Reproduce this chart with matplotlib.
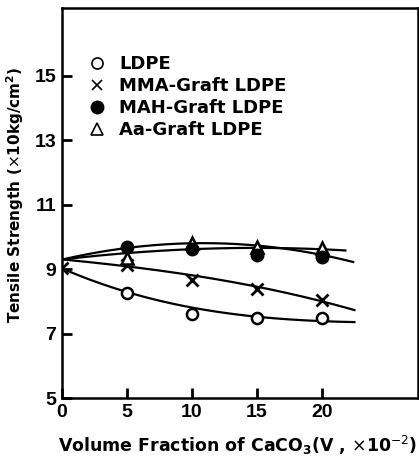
import numpy as np
import matplotlib
matplotlib.use("Agg")
import matplotlib.pyplot as plt

# Data points
ldpe_x = [5, 10, 15, 20]
ldpe_y = [8.25, 7.62, 7.47, 7.47]
mma_x = [0, 5, 10, 15, 20]
mma_y = [9.05, 9.12, 8.67, 8.4, 8.05]
mah_x = [5, 10, 15, 20]
mah_y = [9.7, 9.62, 9.45, 9.38]
aa_x = [5, 10, 15, 20]
aa_y = [9.35, 9.8, 9.7, 9.65]

# Fitted curves (control points)
cur_ldpe_x = [0, 5, 10, 15, 20, 22.5]
cur_ldpe_y = [9.02, 8.3, 7.8, 7.52, 7.4, 7.35]
cur_mma_x = [0, 5, 10, 15, 20, 22.5]
cur_mma_y = [9.3, 9.1, 8.8, 8.45, 8.02, 7.72]
cur_a_x = [0, 5, 10, 15, 20, 22.4]
cur_a_y = [9.3, 9.65, 9.82, 9.72, 9.45, 9.22]
cur_b_x = [0, 5, 10, 15, 20, 21.8]
cur_b_y = [9.3, 9.5, 9.62, 9.66, 9.62, 9.58]

legend_labels = ["LDPE", "MMA-Graft LDPE", "MAH-Graft LDPE", "Aa-Graft LDPE"]
xticks = [0, 5, 10, 15, 20]
yticks = [5, 7, 9, 11, 13, 15]

plt.rcParams['font.family'] = ['DejaVu Sans']

fig = plt.figure(figsize=(4.19, 4.57), dpi=100)
ax = fig.add_axes([0.148, 0.129, 0.85, 0.853])

def smooth(xs, ys, deg=3):
    c = np.polyfit(xs, ys, deg)
    xx = np.linspace(xs[0], xs[-1], 200)
    return xx, np.polyval(c, xx)

for cx, cy in [(cur_ldpe_x, cur_ldpe_y), (cur_mma_x, cur_mma_y),
               (cur_a_x, cur_a_y), (cur_b_x, cur_b_y)]:
    xx, yy = smooth(cx, cy)
    ax.plot(xx, yy, color='black', lw=1.6, zorder=2)

ms = 8
ax.plot(ldpe_x, ldpe_y, 'o', mfc='white', mec='black', mew=1.8, ms=ms, ls='none', zorder=3)
ax.plot(mma_x, mma_y, 'x', color='black', mew=2, ms=ms, ls='none', zorder=3)
ax.plot(aa_x, aa_y, '^', mfc='white', mec='black', mew=1.8, ms=ms, ls='none', zorder=3)
ax.plot(mah_x, mah_y, 'o', color='black', ms=ms + 1, ls='none', zorder=4)

# legend
h1 = ax.plot([], [], 'o', mfc='white', mec='black', mew=1.2, ms=8, ls='none')[0]
h2 = ax.plot([], [], 'x', color='black', mew=1.2, ms=7, ls='none')[0]
h3 = ax.plot([], [], 'o', color='black', ms=9, ls='none')[0]
h4 = ax.plot([], [], '^', mfc='white', mec='black', mew=1.2, ms=8, ls='none')[0]
leg = ax.legend([h1, h2, h3, h4], legend_labels, loc='upper left',
                bbox_to_anchor=(0.052, 0.902), frameon=False,
                prop={'size': 13, 'weight': 'bold'}, handlelength=0.8,
                handletextpad=0.85, labelspacing=0.22, borderpad=0)

ax.set_xlim(0, 27.4)
ax.set_ylim(5, 17.1)
ax.set_xticks(xticks)
ax.set_yticks(yticks)
ax.tick_params(direction='in', length=7, width=2, pad=4)
for lab in ax.get_xticklabels() + ax.get_yticklabels():
    lab.set_fontweight('bold')
    lab.set_fontfamily(['Liberation Sans'])
    lab.set_fontsize(14)
for s in ax.spines.values():
    s.set_linewidth(1.8)

fig.text(0.036, 0.573, "Tensile Strength ($\\times$10kg/cm$^{\\mathbf{2}}$)", rotation=90,
         ha='center', va='center', fontsize=11, fontweight='bold')
fig.text(0.568, 0.026, "Volume Fraction of CaCO$_{\\mathbf{3}}$(V , $\\times$10$^{-2}$)",
         ha='center', va='center', fontsize=12.5, fontweight='bold')

fig.savefig("out.png", dpi=100)
